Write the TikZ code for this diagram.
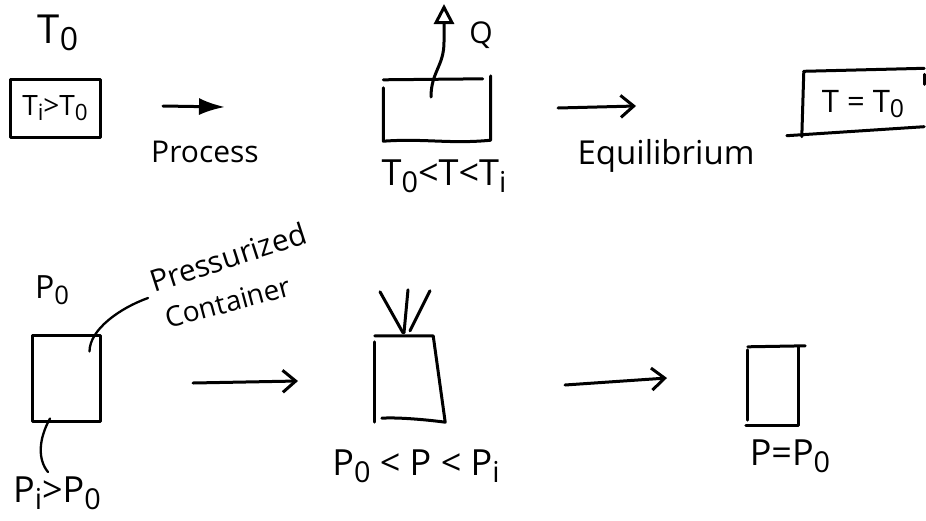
\documentclass[tikz,border=0pt]{standalone}
\usepackage{fontspec}
\usepackage{graphicx}
\setmainfont{Open Sans}
\usetikzlibrary{arrows.meta}
\newcommand{\lo}[1]{\raisebox{-0.35ex}{\scalebox{0.8}{#1}}}
\newcommand{\fs}[1]{\fontsize{#1}{#1}\selectfont}
\begin{document}
\begin{tikzpicture}[x=1pt,y=-1pt,line cap=round,line join=round,
  pen/.style={line width=3pt},
  thinpen/.style={line width=2.3pt},
  frame/.style={inner sep=0pt,minimum width=#1},
  lbl/.style={inner sep=0pt},
  openhead/.style={-{Straight Barb[length=13pt,width=22pt,line width=3pt]}}]
\useasboundingbox (0,0) rectangle (926,520);

% ---------- top row ----------
\node[lbl,font=\fs{40}] (t0) at (58,33) {T\lo{0}};
\node[frame=90pt,minimum height=58pt,draw,pen,font=\fs{28}] (b1) at (55,108) {T\lo{i}>T\lo{0}};

\coordinate (pa1) at (163,106);
\coordinate (pa2) at (225,107);
\draw[pen,-{Latex[length=26pt,width=17pt]}] (pa1) -- (pa2);
\node[lbl,font=\fs{30}] (proc) at (205,152) {Process};

\node[frame=107pt,minimum height=60pt] (b2) at (437,110) {};
\draw[pen] (b2.north west) -- ([xshift=-8pt,yshift=1pt]b2.north east);
\draw[pen] ([yshift=4pt]b2.north east) -- (b2.south east)
  .. controls ([xshift=-40pt,yshift=-4pt]b2.south east) and ([xshift=40pt,yshift=2pt]b2.south west) .. ([yshift=-1pt]b2.south west)
  -- ([yshift=-8pt]b2.north west);
\coordinate (q1) at (431,97);
\coordinate (q2) at (444,4);
\draw[pen,-{Triangle[open,length=20pt,width=20pt,line width=3pt]}] (q1) .. controls (431,72) and (444,66) .. (444,42) -- (q2);
\node[lbl,font=\fs{30}] (q) at (481,35) {Q};
\node[lbl,font=\fs{36}] (tmid) at (444,176) {T\lo{0}<T<T\lo{i}};

\coordinate (ea1) at (558,108);
\coordinate (ea2) at (636,106);
\draw[pen,openhead] (ea1) -- (ea2);
\node[lbl,font=\fs{33}] (eq) at (666,156) {Equilibrium};

\node[frame=122pt,minimum height=65pt,font=\fs{31}] (b3) at (863,104) {T = T\lo{0}};
\draw[pen] ([xshift=2pt]b3.north west) -- ([yshift=3pt]b3.north east);
\draw[pen] ([xshift=2pt]b3.north west) -- (b3.south west);
\draw[pen] ([xshift=-15pt,yshift=1pt]b3.south west) -- ([yshift=10pt]b3.south east);
\draw[pen] ([yshift=-3pt]b3.north east) -- ([yshift=-13pt]b3.north east);

% ---------- bottom row ----------
\node[lbl,font=\fs{32}] (p0) at (52,290) {P\lo{0}};
\node[frame=68pt,minimum height=86pt,draw,pen] (c1) at (66,378) {};
\node[lbl,font=\fs{30},rotate=18] (pr) at (228,257) {Pressurized};
\node[lbl,font=\fs{28},rotate=15] (co) at (228,302) {Container};
\coordinate (l1) at ([xshift=-12pt,yshift=-18pt]c1.north east);
\draw[thinpen] (l1) .. controls ([yshift=22pt]l1) and (120,308) .. (148,298);
\coordinate (l2) at ([xshift=-16pt,yshift=4pt]c1.south);
\node[lbl,font=\fs{36}] (pi) at (57,493) {P\lo{i}>P\lo{0}};
\draw[thinpen] (l2) .. controls (38,440) and (38,460) .. (48,472);

\coordinate (ba1) at (193,383);
\coordinate (ba2) at (298,381);
\draw[pen,openhead] (ba1) -- (ba2);

\node[frame=58pt,minimum height=86pt] (c2) at (404,379) {};
\draw[pen] (c2.north west) -- (c2.north east) -- ([xshift=12pt]c2.south east)
  .. controls ([xshift=-10pt,yshift=3pt]c2.south east) and ([xshift=20pt,yshift=5pt]c2.south west) .. ([xshift=7pt,yshift=4pt]c2.south west);
\draw[pen] ([yshift=-6pt]c2.north west) -- (c2.south west);
\draw[pen] ([xshift=-1pt,yshift=3pt]c2.north) -- ++(-23pt,41pt);
\draw[pen] ([xshift=0pt,yshift=3pt]c2.north) -- ++(4pt,43pt);
\draw[pen] ([xshift=6pt,yshift=5pt]c2.north) -- ++(20pt,40pt);
\node[lbl,font=\fs{36}] (pmid) at (416,466) {P\lo{0} < P < P\lo{i}};

\coordinate (ca1) at (565,385);
\coordinate (ca2) at (667,378);
\draw[pen,openhead] (ca1) -- (ca2);

\node[frame=50pt,minimum height=78pt] (c3) at (773,386) {};
\draw[pen] (c3.north west) -- ([xshift=7pt,yshift=1pt]c3.north east);
\draw[pen] (c3.north east) -- (c3.south east) -- ([xshift=-2pt]c3.south west);
\draw[pen] ([yshift=-3pt]c3.north west) -- ([yshift=5pt]c3.south west);
\node[lbl,font=\fs{36}] (peq) at (790,456) {P=P\lo{0}};
\end{tikzpicture}
\end{document}
